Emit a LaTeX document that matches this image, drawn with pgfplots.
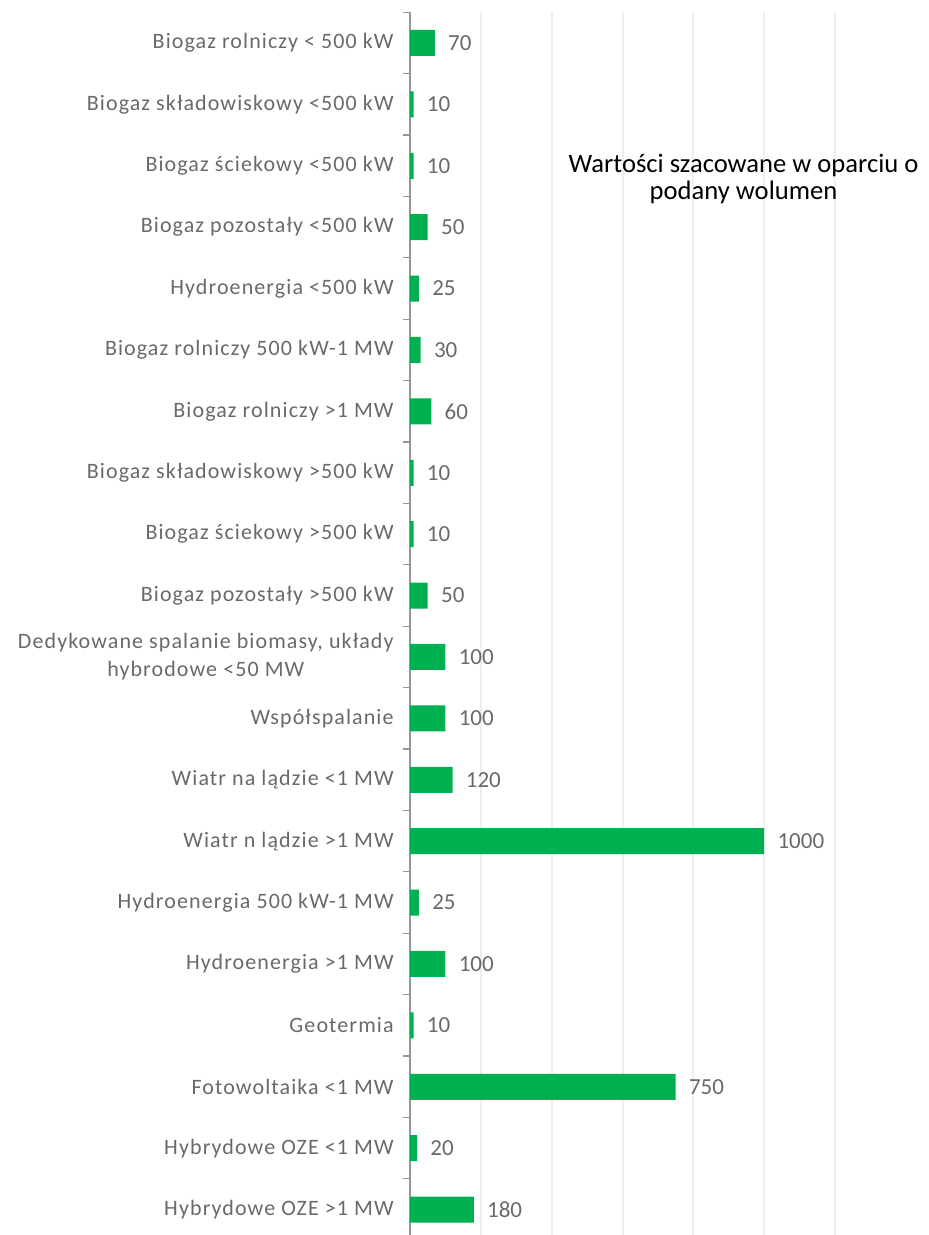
\documentclass[border=0pt]{standalone}
\usepackage{pgfplots}
\pgfplotsset{compat=1.18}
\usepackage{fontspec}
\setmainfont{Carlito}
\definecolor{bargreen}{RGB}{0,176,80}
\definecolor{lblgray}{RGB}{105,105,105}
\definecolor{gridgray}{RGB}{238,238,238}
\definecolor{axgray}{RGB}{150,150,150}
\begin{document}
\begin{tikzpicture}
\useasboundingbox (0,0) rectangle (464pt,617.5pt);
\begin{axis}[
  at={(205pt,611.35pt)}, anchor=north west,
  scale only axis, width=212.5pt, height=614pt,
  xbar, bar width=13pt,
  xmin=0, xmax=1200, ymin=-0.5, ymax=19.5,
  axis x line*=bottom, axis y line*=left,
  x axis line style={draw=none},
  y axis line style={draw=axgray, line width=0.6pt},
  xtick={200,400,...,1200}, xticklabels={},
  xmajorgrids, grid style={draw=gridgray, line width=1pt},
  ytick={0,...,19},
  minor ytick={-0.5,0.5,...,19.5},
  major tick length=0pt, minor tick length=3.5pt,
  tick align=outside,
  minor tick style={draw=axgray, line width=0.6pt},
  yticklabels={
    Hybrydowe OZE >1 MW,
    Hybrydowe OZE <1 MW,
    Fotowoltaika <1 MW,
    Geotermia,
    Hydroenergia >1 MW,
    Hydroenergia 500 kW-1 MW,
    Wiatr n lądzie >1 MW,
    Wiatr na lądzie <1 MW,
    Współspalanie,
    {Dedykowane spalanie biomasy, układy\\hybrodowe <50 MW},
    Biogaz pozostały >500 kW,
    Biogaz ściekowy >500 kW,
    Biogaz składowiskowy >500 kW,
    Biogaz rolniczy >1 MW,
    Biogaz rolniczy 500 kW-1 MW,
    Hydroenergia <500 kW,
    Biogaz pozostały <500 kW,
    Biogaz ściekowy <500 kW,
    Biogaz składowiskowy <500 kW,
    Biogaz rolniczy < 500 kW},
  yticklabel style={font=\fontsize{11pt}{14pt}\selectfont\addfontfeature{LetterSpace=5}, text=lblgray, align=center, inner sep=0pt, xshift=-8pt},
  point meta=x,
  nodes near coords,
  nodes near coords style={font=\fontsize{11.5pt}{14pt}\selectfont, text=lblgray, anchor=west, inner sep=0pt, xshift=6.5pt,
    /pgf/number format/assume math mode=true, /pgf/number format/1000 sep={}},
  clip=false,
]
\addplot[fill=bargreen, draw=none] coordinates {
(180,0) (20,1) (750,2) (10,3) (100,4) (25,5) (1000,6) (120,7) (100,8) (100,9)
(50,10) (10,11) (10,12) (60,13) (30,14) (25,15) (50,16) (10,17) (10,18) (70,19)
};
\end{axis}
\node[anchor=base, font=\fontsize{13.3pt}{14pt}\selectfont, inner sep=0pt] at (371.75pt,531pt) {Wartości szacowane w oparciu o};
\node[anchor=base, font=\fontsize{13.3pt}{14pt}\selectfont, inner sep=0pt] at (371.75pt,517.5pt) {podany wolumen};
\end{tikzpicture}
\end{document}
